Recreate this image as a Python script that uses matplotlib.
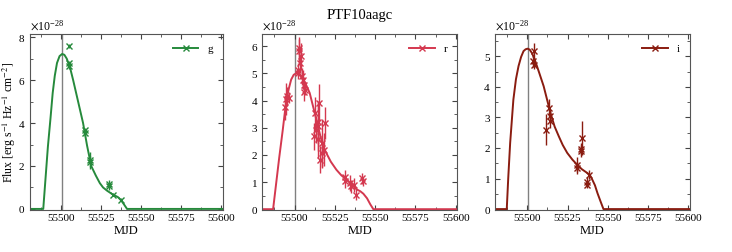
import matplotlib
matplotlib.use('Agg')
import matplotlib.pyplot as plt
from matplotlib.ticker import AutoMinorLocator, MultipleLocator, ScalarFormatter
import numpy as np

plt.rcParams['font.family'] = ['Liberation Serif', 'DejaVu Serif']
plt.rcParams['mathtext.fontset'] = 'stix'

SCALE = 1e-28
t_peak = 55500.2

# observed points (MJD, flux in 1e-28, error in 1e-28)
g_mjd = [55504.8, 55504.6, 55504.9, 55514.5, 55514.4, 55517.6, 55517.8, 55529.7, 55529.8, 55532.1, 55537.3]
g_flux = [7.60, 6.78, 6.66, 3.54, 3.66, 2.17, 2.30, 1.18, 1.05, 0.67, 0.43]
g_err = [0.10, 0.12, 0.12, 0.15, 0.12, 0.30, 0.35, 0.18, 0.15, 0.08, 0.08]

r_mjd = [55494.0, 55494.5, 55495.4, 55496.3, 55502.6, 55503.0, 55503.8, 55503.4, 55502.4, 55502.0,
         55504.5, 55505.3, 55505.8, 55506.3, 55505.7,
         55512.4, 55513.2, 55512.3, 55514.4, 55515.3, 55514.8, 55517.0, 55518.0, 55518.7, 55515.7,
         55516.9, 55514.4,
         55531.4, 55531.5, 55534.5, 55535.0, 55537.2, 55538.2, 55542.1, 55542.2]
r_flux = [3.75, 4.05, 4.15, 4.10, 5.94, 5.82, 5.63, 5.39, 5.14, 5.00,
          4.89, 4.77, 4.59, 4.40, 4.30,
          3.54, 2.93, 2.68, 3.05, 3.90, 3.20, 2.43, 2.19, 3.17, 1.82,
          2.07, 2.60,
          1.20, 1.02, 0.96, 0.84, 0.90, 0.53, 1.14, 1.02]
r_err = [0.45, 0.60, 0.35, 0.20, 0.40, 0.45, 0.50, 0.30, 0.25, 0.20,
         0.30, 0.35, 0.25, 0.20, 0.30,
         0.60, 0.50, 0.50, 0.90, 0.70, 0.80, 0.90, 0.60, 0.60, 0.50,
         0.50, 0.70,
         0.25, 0.25, 0.30, 0.25, 0.25, 0.20, 0.20, 0.15]

i_mjd = [55503.9, 55503.7, 55504.1, 55513.3, 55514.1, 55514.3, 55511.9, 55531.0, 55530.9,
         55533.5, 55533.3, 55534.0, 55537.3, 55537.1, 55538.3]
i_flux = [5.17, 4.84, 4.73, 3.31, 3.04, 2.87, 2.60, 1.45, 1.35,
          1.89, 1.97, 2.33, 0.90, 0.80, 1.12]
i_err = [0.25, 0.20, 0.15, 0.30, 0.20, 0.20, 0.50, 0.25, 0.20,
         0.20, 0.20, 0.55, 0.15, 0.12, 0.15]

# model light curves (MJD, flux in 1e-28)
g_model_mjd = [55480, 55488.6, 55490.0, 55491.5, 55493.1, 55494.5, 55495.8, 55497.2, 55498.8, 55500.4,
               55501.8, 55503.3, 55505.3, 55507.3, 55510.4, 55513.5, 55516.0, 55518.6, 55521.5, 55524.0,
               55526.0, 55528.5, 55531.5, 55533.5, 55535.3, 55537.3, 55539.0, 55541.0, 55545, 55601]
g_model = [0, 0, 1.4, 2.9, 4.2, 5.4, 6.2, 6.8, 7.12, 7.22,
           7.18, 7.0, 6.6, 6.0, 5.0, 4.0, 2.95, 2.0, 1.55, 1.2,
           1.0, 0.85, 0.70, 0.62, 0.55, 0.40, 0.22, 0, 0, 0]

r_model_mjd = [55480, 55486.7, 55488.5, 55490.5, 55492.7, 55494.8, 55496.5, 55497.9, 55499.5, 55501.0,
               55502.5, 55504.5, 55507.0, 55509.4, 55512.5, 55515.6, 55517.5, 55519.7, 55522.5, 55526.0,
               55529.0, 55532.3, 55535.5, 55538.5, 55540.8, 55542.7, 55545.0, 55547.0, 55548.9, 55552, 55601]
r_model = [0, 0, 0.9, 1.9, 2.92, 3.97, 4.45, 4.77, 4.95, 5.0,
           4.98, 4.85, 4.6, 4.28, 3.55, 2.8, 2.35, 2.07, 1.75, 1.45,
           1.25, 1.08, 0.92, 0.73, 0.66, 0.57, 0.4, 0.18, 0, 0, 0]

i_model_mjd = [55480, 55487.3, 55488.2, 55489.4, 55491.4, 55493.0, 55494.6, 55496.2, 55497.7, 55499.0,
               55500.2, 55501.5, 55503.0, 55505.0, 55507.5, 55510.2, 55514.4, 55517.0, 55519.6, 55522.0,
               55524.8, 55528.0, 55531.0, 55534.0, 55537.3, 55539.0, 55540.4, 55542.0, 55543.6, 55545.5,
               55547.3, 55550, 55601]
i_model = [0, 0, 1.0, 2.16, 3.58, 4.25, 4.68, 4.98, 5.17, 5.23,
           5.25, 5.22, 5.1, 4.84, 4.45, 4.02, 3.15, 2.70, 2.38, 2.10,
           1.84, 1.62, 1.45, 1.30, 1.18, 1.10, 0.96, 0.78, 0.52, 0.25,
           0, 0, 0]

bands = ['g', 'r', 'i']
colors = ['#268a3c', '#d4384f', '#8a1c10']
ylims = [(-0.05, 8.15), (-0.03, 6.45), (-0.03, 5.73)]
ymajor = [2, 1, 1]
obs = [(g_mjd, g_flux, g_err), (r_mjd, r_flux, r_err), (i_mjd, i_flux, i_err)]
models = [(g_model_mjd, g_model), (r_model_mjd, r_model), (i_model_mjd, i_model)]
lefts = [29.5, 262.3, 495.0]
widths = [193.5, 195.0, 195.0]

W, H = 732, 252
fig = plt.figure(figsize=(W / 100, H / 100), dpi=100)

for k in range(3):
    ax = fig.add_axes([lefts[k] / W, 42 / H, widths[k] / W, 176 / H])
    mjd, flux, err = obs[k]
    mm, mf = models[k]
    ax.axvline(t_peak, color='#808080', lw=1.0, zorder=1)
    ax.plot(mm, np.array(mf) * SCALE, color=colors[k], lw=1.4, zorder=2)
    ax.errorbar(mjd, np.array(flux) * SCALE, yerr=np.array(err) * SCALE, fmt='x',
                color=colors[k], ms=4, mew=1.0, elinewidth=1.0, capsize=0, zorder=3)
    ax.plot([], [], color=colors[k], marker='x', ms=4, lw=1.4, label=bands[k])
    ax.set_xlim(55480, 55601)
    ax.set_ylim(ylims[k][0] * SCALE, ylims[k][1] * SCALE)
    ax.xaxis.set_major_locator(MultipleLocator(25))
    ax.xaxis.set_minor_locator(AutoMinorLocator(2))
    ax.yaxis.set_major_locator(MultipleLocator(ymajor[k] * SCALE))
    ax.yaxis.set_minor_locator(AutoMinorLocator(2))
    fmt = ScalarFormatter(useMathText=True)
    fmt.set_useOffset(False)
    ax.yaxis.set_major_formatter(fmt)
    ax.tick_params(which='both', direction='in', top=True, right=True, labelsize=8, pad=3)
    ax.tick_params(which='major', length=3.5, color='#444444')
    ax.tick_params(which='minor', length=2, color='#444444')
    ax.yaxis.get_offset_text().set_fontsize(8.5)
    for sp in ax.spines.values():
        sp.set_color('#555555')
    ax.set_xlabel('MJD', fontsize=9, labelpad=1)
    ax.legend(loc='upper right', frameon=False, fontsize=8, handlelength=2.3)
    if k == 0:
        ax.set_ylabel(r'Flux [erg s$^{-1}$ Hz$^{-1}$ cm$^{-2}$]', fontsize=8.5, labelpad=0)
    if k == 1:
        ax.set_title('PTF10aagc', fontsize=10.5, pad=11)

fig.savefig('out.png', dpi=100)
